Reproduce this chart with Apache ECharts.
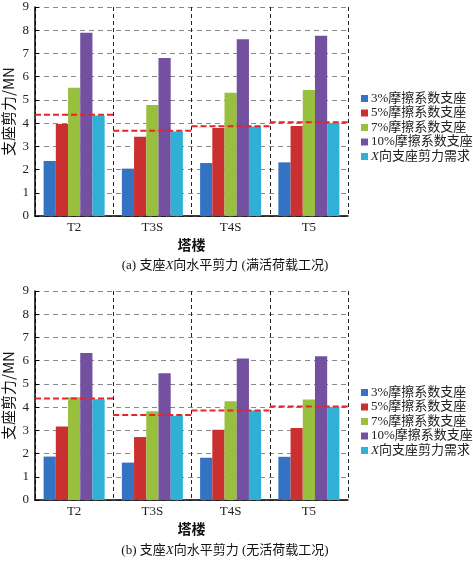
<!DOCTYPE html>
<html><head><meta charset="utf-8">
<script src="https://cdn.jsdelivr.net/npm/echarts@6/dist/echarts.min.js"></script>
<style>html,body{margin:0;padding:0;background:#fff}#c{width:473px;height:561px}</style>
</head><body><div id="c"></div>
<script>
const categories = ['T2', 'T3S', 'T4S', 'T5'];
const seriesNames = ['3%摩擦系数支座', '5%摩擦系数支座', '7%摩擦系数支座', '10%摩擦系数支座', 'X向支座剪力需求'];
// (a) full live load
const a3 = [2.37, 2.04, 2.28, 2.31];
const a5 = [3.96, 3.41, 3.79, 3.88];
const a7 = [5.52, 4.78, 5.31, 5.43];
const a10 = [7.89, 6.80, 7.61, 7.76];
const aDemand = [4.33, 3.64, 3.85, 4.00];
const aLine = [4.36, 3.67, 3.86, 4.04];
// (b) no live load
const b3 = [1.87, 1.61, 1.82, 1.86];
const b5 = [3.16, 2.71, 3.03, 3.10];
const b7 = [4.42, 3.82, 4.25, 4.33];
const b10 = [6.33, 5.46, 6.09, 6.19];
const bDemand = [4.34, 3.63, 3.85, 4.00];
const bLine = [4.37, 3.66, 3.85, 4.03];
const yTicks = [0, 9, 1];

const colors = ['#3472c4', '#c9302f', '#98c03e', '#7350a0', '#30b0d4'];
const FONT = '"Liberation Serif", "Noto Sans CJK SC", serif';
const CJK = '"Noto Sans CJK SC", "Liberation Serif", serif';

function grid(top) { return { left: 35, top: top, width: 313, height: 209, containLabel: false, outerBoundsMode: 'none' }; }
function catAxis(gi) {
  return {
    type: 'category', gridIndex: gi, data: categories,
    axisLine: { lineStyle: { color: '#000', width: 1.5 } },
    axisTick: { inside: true, length: 4, lineStyle: { color: '#000' } },
    axisLabel: { color: '#222', fontFamily: FONT, fontSize: 13, margin: 5 },
    splitLine: { show: true, lineStyle: { color: '#222', type: [4, 3], width: 1 } },
    name: '塔楼', nameLocation: 'middle', nameGap: 22, nameMoveOverlap: false,
    nameTextStyle: { fontFamily: CJK, fontSize: 14, color: '#111', fontWeight: 'bold' }
  };
}
function valXAxis(gi) { return { type: 'value', gridIndex: gi, min: 0, max: 4, show: false }; }
function yAxis(gi) {
  return {
    type: 'value', gridIndex: gi, min: yTicks[0], max: yTicks[1], interval: yTicks[2],
    axisLine: { show: true, lineStyle: { color: '#000', width: 1.5 } },
    axisTick: { show: true, inside: true, length: 4, lineStyle: { color: '#000' } },
    axisLabel: { color: '#222', fontFamily: FONT, fontSize: 13, margin: 6 },
    splitLine: { show: true, lineStyle: { color: '#888', type: [5, 4], width: 1 } },
    name: '支座剪力/MN', nameLocation: 'middle', nameGap: 19, nameRotate: 90, nameMoveOverlap: false,
    nameTextStyle: { fontFamily: CJK, fontSize: 15, color: '#111' }
  };
}
function bars(xi, yi, arrs) {
  return arrs.map((d, i) => ({
    name: seriesNames[i], type: 'bar', xAxisIndex: xi, yAxisIndex: yi, data: d,
    barGap: '0%', barCategoryGap: '22%', itemStyle: { color: colors[i] }, animation: false
  }));
}
function demandLines(xi, yi, vals) {
  return vals.map((v, i) => ({
    name: 'demand' + xi + '_' + i, type: 'line', xAxisIndex: xi, yAxisIndex: yi,
    data: [[i, v], [i + 1, v]], symbol: 'none', silent: true, animation: false, z: 5,
    lineStyle: { color: '#e8232a', width: 2, type: [6, 3] }
  }));
}
function legend(top) {
  return {
    orient: 'vertical', left: 356, top: top, itemWidth: 7, itemHeight: 7, itemGap: 1.5,
    data: seriesNames, icon: 'rect',
    formatter: n => n.startsWith('X') ? '{i|X}{n|' + n.slice(1) + '}' : '{n|' + n + '}',
    textStyle: {
      fontFamily: FONT, fontSize: 13, color: '#222', padding: [0, 0, 0, -2],
      rich: { i: { fontStyle: 'italic', fontFamily: FONT, fontSize: 13, color: '#222' },
              n: { fontFamily: FONT, fontSize: 13, color: '#222' } }
    }
  };
}
function caption(label, cond, top) {
  return {
    text: '{n|' + label + ' 支座}{i|X}{n|向水平剪力 (' + cond + ')}', left: 220, top: top, textAlign: 'center',
    textStyle: { fontWeight: 'normal', rich: {
      n: { fontFamily: FONT, fontSize: 13, color: '#111', fontWeight: 'normal' },
      i: { fontFamily: FONT, fontSize: 13, fontStyle: 'italic', color: '#111', fontWeight: 'normal' } } }
  };
}

const chart = echarts.init(document.getElementById('c'), null, { renderer: 'canvas' });
chart.setOption({
  animation: false,
  title: [caption('(a)', '满活荷载工况', 254), caption('(b)', '无活荷载工况', 539)],
  grid: [grid(7), grid(291)],
  xAxis: [catAxis(0), valXAxis(0), catAxis(1), valXAxis(1)],
  yAxis: [yAxis(0), yAxis(1)],
  legend: [legend(87), legend(381)],
  series: [].concat(
    bars(0, 0, [a3, a5, a7, a10, aDemand]),
    demandLines(1, 0, aLine),
    bars(2, 1, [b3, b5, b7, b10, bDemand]),
    demandLines(3, 1, bLine)
  )
});
</script></body></html>
